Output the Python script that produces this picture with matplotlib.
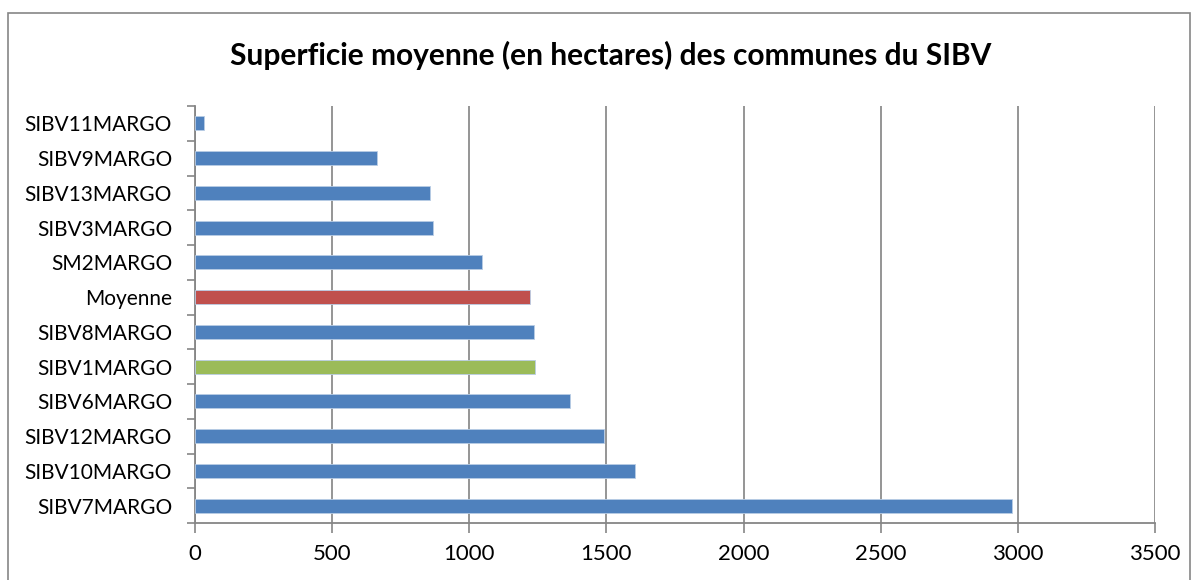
import matplotlib
matplotlib.use("Agg")
import matplotlib.pyplot as plt
from matplotlib.patches import Rectangle
import numpy as np

categories = ["SIBV7MARGO", "SIBV10MARGO", "SIBV12MARGO", "SIBV6MARGO", "SIBV1MARGO",
              "SIBV8MARGO", "Moyenne", "SM2MARGO", "SIBV3MARGO", "SIBV13MARGO",
              "SIBV9MARGO", "SIBV11MARGO"]
values = [2980, 1605, 1491, 1369, 1239, 1237, 1221, 1047, 867, 856, 663, 34]
bar_colors = ["#4F81BD", "#4F81BD", "#4F81BD", "#4F81BD", "#9BBB59",
              "#4F81BD", "#C0504D", "#4F81BD", "#4F81BD", "#4F81BD",
              "#4F81BD", "#4F81BD"]
x_ticks = [0, 500, 1000, 1500, 2000, 2500, 3000, 3500]
title = "Superficie moyenne (en hectares) des communes du SIBV"

plt.rcParams['font.family'] = ['Lato', 'DejaVu Sans']

W, H = 1198, 580
fig = plt.figure(figsize=(W / 100, H / 100), dpi=100)
ax = fig.add_axes([195 / W, 1 - 523 / H, (1155 - 195) / W, (523 - 106) / H])

fig.patches.append(Rectangle((8 / W, -0.1), (1190 - 8) / W, 1 - 13 / H + 0.1,
                             transform=fig.transFigure, fill=False,
                             edgecolor="#868686", linewidth=1.2, zorder=0))

y = np.arange(len(categories))
ax.barh(y, values, height=0.4, color=bar_colors, edgecolor="#B9CDE5",
        linewidth=0.6, zorder=3)

ax.set_xlim(0, 3500)
ax.set_ylim(-0.5, len(categories) - 0.5)
ax.set_xticks(x_ticks)
ax.set_xticklabels([str(t) for t in x_ticks], fontsize=16)
ax.set_yticks(y)
ax.set_yticklabels(categories, fontsize=15)
ax.tick_params(axis='y', length=0, pad=16.5)
ax.set_yticks(np.arange(-0.5, len(categories)), minor=True)
ax.tick_params(axis='y', which='minor', length=6, color="#868686", width=1.2)
ax.tick_params(axis='x', length=7, color="#868686", width=1.2, pad=8)

ax.grid(axis='x', color="#8C8C8C", linewidth=1.3, zorder=0)
ax.spines['top'].set_visible(False)
ax.spines['right'].set_visible(False)
ax.spines['left'].set_color("#868686")
ax.spines['bottom'].set_color("#868686")
ax.spines['left'].set_linewidth(1.3)
ax.spines['bottom'].set_linewidth(1.3)
ax.set_axisbelow(True)

fig.text(611 / W, 1 - 55 / H, title, ha='center', va='center',
         fontsize=21.5, fontweight='bold')

fig.savefig("out.png", dpi=100)
